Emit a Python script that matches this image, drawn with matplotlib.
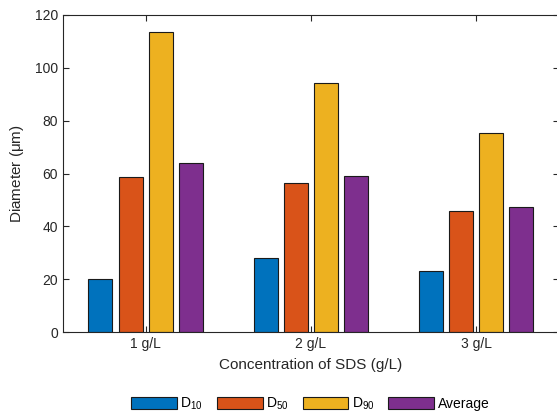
import numpy as np
import matplotlib.pyplot as plt

plt.rcParams['font.family'] = ['Liberation Sans', 'DejaVu Sans']
plt.rcParams['mathtext.default'] = 'regular'

groups = ['1 g/L', '2 g/L', '3 g/L']
series = ['D$_{10}$', 'D$_{50}$', 'D$_{90}$', 'Average']
d10 = [20.0, 28.0, 23.1]
d50 = [58.7, 56.4, 45.9]
d90 = [113.5, 94.4, 75.2]
avg = [64.0, 59.0, 47.2]
colors = ['#0072BD', '#D95319', '#EDB120', '#7E2F8E']

axc = '#262626'
fig = plt.figure(figsize=(5.57, 4.2), dpi=100)
ax = fig.add_axes([0.113, 0.2095, 0.8905, 0.7548])

x = np.arange(1, len(groups) + 1)
offsets = [-0.273, -0.091, 0.091, 0.273]
for vals, off, c, name in zip([d10, d50, d90, avg], offsets, colors, series):
    ax.bar(x + off, vals, width=0.145, color=c, edgecolor='#1a1a1a',
           linewidth=0.8, label=name)

ax.set_xlim(0.5, 3.5)
ax.set_ylim(0, 120)
ax.set_xticks(x)
ax.set_xticklabels(groups)
ax.set_yticks(np.arange(0, 121, 20))
ax.tick_params(direction='in', top=True, right=True, length=4, width=0.8,
               colors=axc, labelsize=10, labelcolor=axc)
for s in ax.spines.values():
    s.set_color(axc)
    s.set_linewidth(0.8)

ax.set_xlabel('Concentration of SDS (g/L)', fontsize=11, color=axc, labelpad=5)
ax.set_ylabel('Diameter ($\\mu$m)', fontsize=11, color=axc, labelpad=6)

fig.legend(loc='center', bbox_to_anchor=(0.557, 0.038), ncol=4, frameon=False,
           fontsize=10, handlelength=3.3, handleheight=0.95, columnspacing=1.0,
           handletextpad=0.25, borderpad=0)

fig.savefig('out.png', dpi=100)
